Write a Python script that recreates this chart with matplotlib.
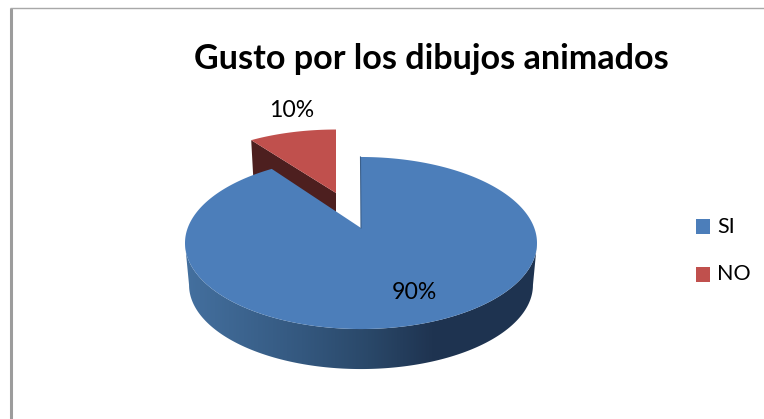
import numpy as np
import matplotlib
matplotlib.use('Agg')
import matplotlib.pyplot as plt
from matplotlib.colors import LinearSegmentedColormap
from matplotlib.patches import Polygon

# datos de la encuesta
categorias = ['SI', 'NO']
porcentajes = [90, 10]
colores = ['#4c7eba', '#c0504d']

plt.rcParams['font.family'] = ['Lato', 'DejaVu Sans']

# el eje usa pixeles de la figura, asi es facil colocar la torta "3D"
fig = plt.figure(figsize=(7.64, 4.19), dpi=100, facecolor='white')
ax = fig.add_axes([0, 0, 1, 1])
ax.set_xlim(0, 764)
ax.set_ylim(419, 0)
ax.axis('off')

# marco del grafico
ax.plot([11, 11], [8, 419], color='#9c9c9c', linewidth=2.2, solid_capstyle='butt')
ax.plot([10, 764], [8.5, 8.5], color='#a8a8a8', linewidth=1.0, solid_capstyle='butt')


def proyectar(grados, cx, cy, esc_x=1.0, esc_y=1.0):
    """Pasa un angulo del circulo (horario desde arriba) a la vista en perspectiva."""
    t = np.radians(grados)
    w = 1 + 0.1745 * np.cos(t)
    x = cx + esc_x * 173.3 * np.sin(t) / w
    y = cy - esc_y * 83.4 * np.cos(t) / w
    return x, y


def cara_inferior(x, y):
    return 361 + (x - 361) * 0.977, 285 + (y - 243) * 0.977


angulos = np.cumsum([0] + porcentajes) * 3.6
cx_si, cy_si = 361, 228
cx_no, cy_no = 336, 193

# pared oscura del trozo NO
xa, ya = proyectar(angulos[1], cx_no, cy_no, 0.95, 0.894)
ax.add_patch(Polygon([(xa, ya), (cx_no, cy_no), (cx_no, cy_no + 32), (xa + 2, ya + 36)],
                     closed=True, facecolor='#4d1f1f', edgecolor='none', zorder=2))

# tapa del trozo NO
th = np.linspace(angulos[1], angulos[2], 40)
xs, ys = proyectar(th, cx_no, cy_no, 0.95, 0.894)
ax.add_patch(Polygon(np.column_stack([np.r_[cx_no, xs], np.r_[cy_no, ys]]), closed=True,
                     facecolor=colores[1], edgecolor='none', zorder=3))

# pared curva del trozo SI con degradado, entre los extremos laterales de la elipse
th = np.linspace(100, 260, 200)
xt, yt = proyectar(th, cx_si, cy_si)
xb, yb = cara_inferior(xt, yt)
lado = Polygon(np.column_stack([np.r_[xt, xb[::-1]], np.r_[yt, yb[::-1]]]), closed=True,
               facecolor='none', edgecolor='none', zorder=4)
ax.add_patch(lado)
degradado = LinearSegmentedColormap.from_list('lado', [
    (0.0, '#44709f'), (0.33, '#34587f'), (0.52, '#2a4869'), (0.70, '#1f3451'), (1.0, '#1e3350')])
img = ax.imshow(np.linspace(0, 1, 256).reshape(1, -1), cmap=degradado, aspect='auto',
                extent=(185, 538, 380, 230), zorder=4)
img.set_clip_path(lado)
ax.set_xlim(0, 764)
ax.set_ylim(419, 0)

# tapa del trozo SI
th = np.linspace(angulos[0], angulos[1], 300)
xs, ys = proyectar(th, cx_si, cy_si)
ax.add_patch(Polygon(np.column_stack([np.r_[cx_si, xs], np.r_[cy_si, ys]]), closed=True,
                     facecolor=colores[0], edgecolor='none', zorder=5))
ax.plot([xs[0] - 0.5, cx_si], [ys[0], cy_si], color='#3b5f8a', linewidth=0.8, zorder=6)

# textos
ax.text(431.5, 59, 'Gusto por los dibujos animados', fontsize=24.6, fontweight='bold',
        ha='center', va='center', color='black', zorder=7)
ax.text(291.5, 110, f'{porcentajes[1]}%', fontsize=16.6, ha='center', va='center', zorder=7)
ax.text(414.5, 292, f'{porcentajes[0]}%', fontsize=16.6, ha='center', va='center', zorder=7)

# leyenda
for nombre, color, y_ley in zip(categorias, colores, [226.5, 274]):
    ax.add_patch(Polygon([(696, y_ley - 7.5), (710, y_ley - 7.5), (710, y_ley + 7.5), (696, y_ley + 7.5)],
                         closed=True, facecolor=color, edgecolor='none', zorder=7))
    ax.text(717, y_ley, nombre, fontsize=15.5, ha='left', va='center', zorder=7)

plt.savefig('out.png', dpi=100)
plt.close()
